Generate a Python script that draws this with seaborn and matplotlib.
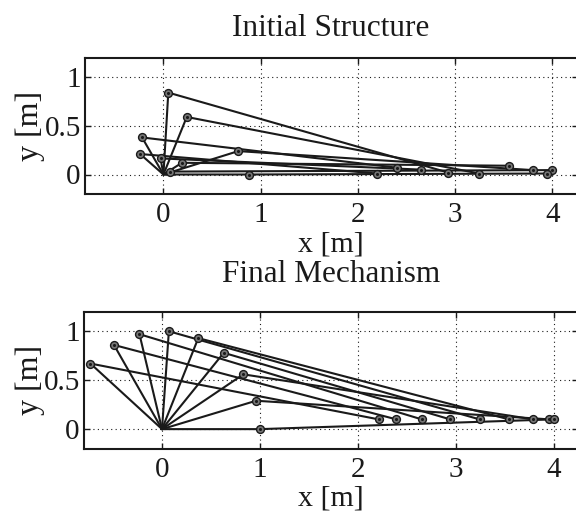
import matplotlib
matplotlib.use("Agg")
import matplotlib.pyplot as plt
import numpy as np
import pandas as pd
import seaborn as sns

sns.set_theme(style="white")
plt.rcParams['font.family'] = ['Liberation Serif', 'DejaVu Serif']
plt.rcParams['xtick.direction'] = 'in'
plt.rcParams['ytick.direction'] = 'in'

#crank tip and coupler end of each link, origin is the fixed pivot
initA_x = [-0.24, -0.22, -0.03, 0.05, 0.07, 0.19, 0.24, 0.77, 0.88]
initA_y = [0.21, 0.38, 0.165, 0.84, 0.03, 0.12, 0.59, 0.24, 0.0]
initB_x = [2.20, 2.40, 2.65, 2.93, 4.00, 3.55, 3.25, 3.80, 3.95]
initB_y = [0.01, 0.07, 0.05, 0.02, 0.045, 0.09, 0.01, 0.045, 0.01]

finalA_x = [-0.73, -0.49, -0.23, 0.07, 0.37, 0.63, 0.83, 0.96, 1.0]
finalA_y = [0.67, 0.86, 0.97, 1.0, 0.93, 0.78, 0.56, 0.29, 0.0]
finalB_x = [2.21, 2.39, 2.65, 3.24, 3.54, 2.94, 3.79, 3.95, 4.0]
finalB_y = [0.1, 0.1, 0.1, 0.1, 0.1, 0.1, 0.1, 0.1, 0.1]

xticks = [0, 1, 2, 3, 4]
yticks = [0, 0.5, 1]
yticklabels = ['0', '0.5', '1']

W, H = 576.0, 512.0


def plotMech(rect, title, ax_x, ax_y, bx, by, xlim, title_y, xlabel_y):
    left, top, right, bottom = rect
    ax = fig.add_axes([left/W, 1-bottom/H, (right-left)/W, (bottom-top)/H])
    rows = []
    for i in range(len(ax_x)):
        rows.append((i, 0, 0.0, 0.0))
        rows.append((i, 1, ax_x[i], ax_y[i]))
        rows.append((i, 2, bx[i], by[i]))
    df = pd.DataFrame(rows, columns=['link', 'order', 'x', 'y'])
    sns.lineplot(data=df, x='x', y='y', units='link', estimator=None, sort=False,
                 color='k', linewidth=1.5, ax=ax, legend=False, zorder=3)
    joints = df[df['order'] > 0]
    sns.scatterplot(data=joints, x='x', y='y', s=32, color='#777777', edgecolor='k',
                    linewidth=1.0, ax=ax, legend=False, zorder=4)
    sns.scatterplot(data=joints, x='x', y='y', s=5, color='k', edgecolor='k',
                    linewidth=0, ax=ax, legend=False, zorder=5)
    ax.set_xlim(xlim)
    ax.set_ylim(-0.2, 1.2)
    ax.set_xticks(xticks)
    ax.set_yticks(yticks)
    ax.set_yticklabels(yticklabels)
    ax.tick_params(labelsize=21, length=4, width=1.0, color='k', labelcolor='k',
                   top=True, right=True, bottom=True, left=True)
    ax.tick_params(axis='x', pad=6)
    ax.tick_params(axis='y', pad=3)
    ax.grid(True, linestyle=(0, (1, 3)), color='k', linewidth=0.8)
    ax.set_axisbelow(True)
    for s in ax.spines.values():
        s.set_color('k')
        s.set_linewidth(1.5)
    ax.set_xlabel('')
    ax.set_ylabel('y [m]', fontsize=23, color='k', labelpad=0)
    ax.yaxis.set_label_coords((45-left)/(right-left), 0.5)
    fig.text(331/W, 1-xlabel_y/H, 'x [m]', fontsize=21.5, color='k', ha='center', va='center')
    fig.text(331/W, 1-title_y/H, title, fontsize=22.5, color='k', ha='center', va='center')
    return ax


fig = plt.figure(figsize=(5.76, 5.12), dpi=100)
plotMech((85, 57.5, 578, 194), 'Initial Structure', initA_x, initA_y, initB_x, initB_y,
         (-0.807, 4.265), 28, 244)
plotMech((84, 311.7, 578, 448.7), 'Final Mechanism', finalA_x, finalA_y, finalB_x, finalB_y,
         (-0.796, 4.245), 275, 498)
plt.savefig('out.png', dpi=100)
